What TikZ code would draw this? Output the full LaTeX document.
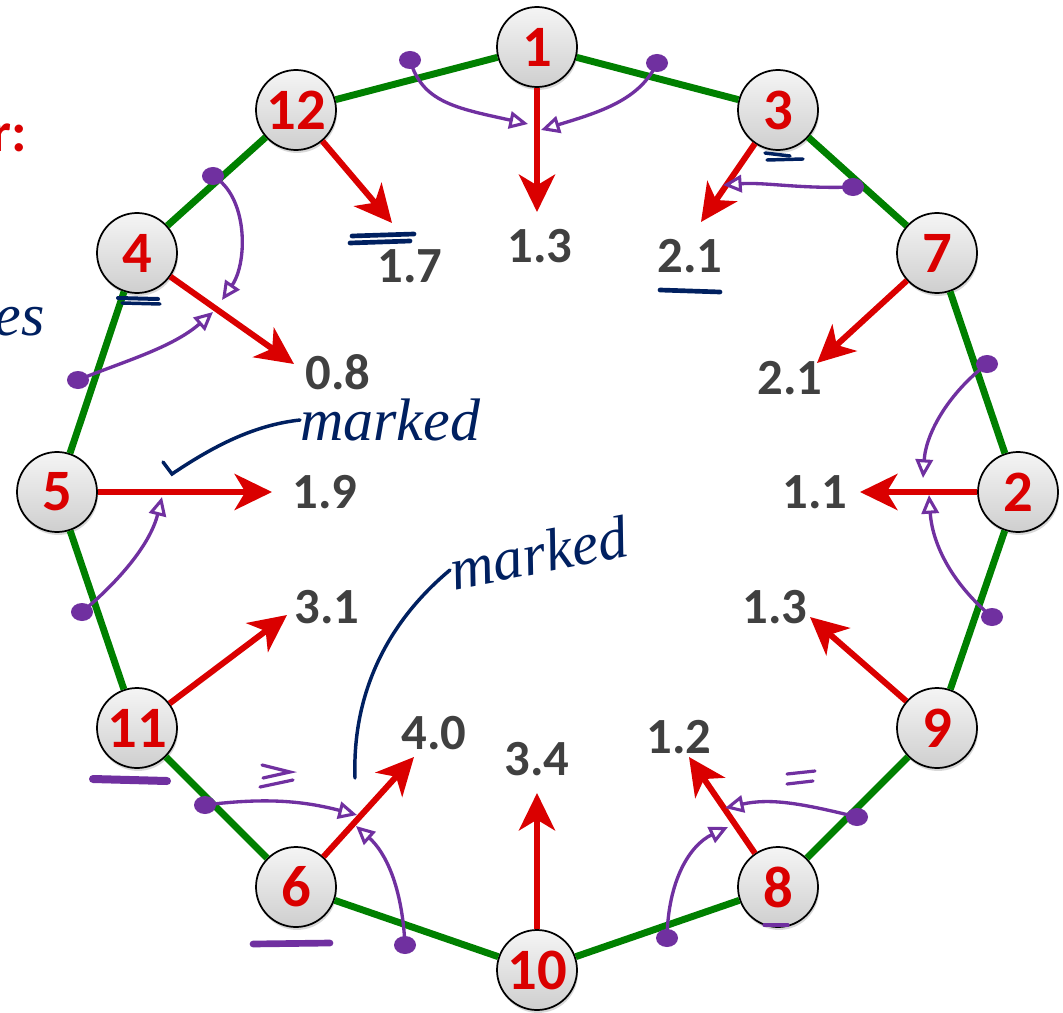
\documentclass[tikz,border=0pt]{standalone}
\usepackage{fontspec}
\setmainfont{Carlito}
\newfontfamily\handfont{Liberation Serif}
\usetikzlibrary{arrows.meta,shadows}
\definecolor{nred}{RGB}{218,0,0}
\definecolor{vgray}{RGB}{64,64,64}
\definecolor{egreen}{RGB}{0,128,0}
\definecolor{hpurple}{RGB}{112,48,160}
\definecolor{hnavy}{RGB}{0,32,96}
\begin{document}
\begin{tikzpicture}[x=0.75pt,y=-0.75pt,
  vtx/.style={circle, draw=black, line width=1.3pt, minimum size=60pt, inner sep=0pt,
    top color=gray!8, bottom color=gray!38,
    drop shadow={shadow xshift=0.8pt, shadow yshift=-2.2pt, opacity=0.3},
    text=nred, font=\fontsize{44}{44}\selectfont\bfseries},
  val/.style={text=vgray, font=\fontsize{38}{38}\selectfont\bfseries, inner sep=0pt},
  edge/.style={draw=egreen, line width=5.2pt},
  redarr/.style={draw=nred, line width=4.5pt, -{Stealth[length=28pt,width=27pt,inset=8pt]}},
  parr/.style={draw=hpurple, line width=2.5pt, line cap=round, -{Triangle[open,length=14pt,width=13pt,line width=2.3pt]}},
  pmark/.style={draw=hpurple, line width=2.4pt, line cap=round},
  nmark/.style={draw=hnavy, line width=2.6pt, line cap=round},
  hand/.style={text=hnavy, font=\handfont\itshape\fontsize{45}{45}\selectfont, inner sep=0pt}
]
\useasboundingbox (0,0) rectangle (1063,1013);
\clip (0,0) rectangle (1063,1013);
\fill[white] (0,0) rectangle (1063,1013);

% vertices
\node[vtx] (n1)  at (537,47)  {1};
\node[vtx] (n3)  at (778,110) {3};
\node[vtx] (n7)  at (937,253) {7};
\node[vtx] (n2)  at (1018,492) {2};
\node[vtx] (n9)  at (937,728) {9};
\node[vtx] (n8)  at (778,887) {8};
\node[vtx] (n10) at (537,970) {10};
\node[vtx] (n6)  at (296,887) {6};
\node[vtx] (n11) at (137,728) {11};
\node[vtx] (n5)  at (57,492)  {5};
\node[vtx] (n4)  at (137,253) {4};
\node[vtx] (n12) at (296,110) {12};

% polygon edges
\foreach \a/\b in {n1/n3,n3/n7,n7/n2,n2/n9,n9/n8,n8/n10,n10/n6,n6/n11,n11/n5,n5/n4,n4/n12,n12/n1}
  \draw[edge] (\a) -- (\b);

% values
\node[val] (v1)  at (540,246) {1.3};
\node[val] (v12) at (410,266) {1.7};
\node[val] (v3)  at (690,256) {2.1};
\node[val] (v4)  at (338,372) {0.8};
\node[val] (v7)  at (790,378) {2.1};
\node[val] (v5)  at (325,492) {1.9};
\node[val] (v2)  at (815,492) {1.1};
\node[val] (v11) at (327,607) {3.1};
\node[val] (v9)  at (775,607) {1.3};
\node[val] (v6)  at (434,733) {4.0};
\node[val] (v10) at (537,759) {3.4};
\node[val] (v8)  at (679,737) {1.2};

% arrow tips
\coordinate (t1)  at (537,212);
\coordinate (t12) at (392,223);
\coordinate (t3)  at (701,222);
\coordinate (t4)  at (294,364);
\coordinate (t7)  at (817,363);
\coordinate (t5)  at (272,492);
\coordinate (t2)  at (860,492);
\coordinate (t11) at (287,615);
\coordinate (t9)  at (810,617);
\coordinate (t6)  at (414,757);
\coordinate (t10) at (537,793);
\coordinate (t8)  at (689,757);
\foreach \n in {1,12,3,4,7,5,2,11,9,6,10,8}
  \draw[redarr] (n\n) -- (t\n);

% purple hand annotations: dots on edges
\foreach \p in {(410,60),(657,63),(853,187),(987,364),(992,617),(857,817),(667,938),(405,945),(205,805),(82,612),(78,380),(213,176)}
  \fill[hpurple] \p ellipse (11 and 9);

% purple curved arrows
\draw[parr] (410,60) .. controls (422,102) and (455,108) .. (528,124);
\draw[parr] (657,63) .. controls (640,100) and (600,112) .. (541,130);
\draw[parr] (853,187) .. controls (800,189) and (765,182) .. (723,185);
\draw[parr] (987,364) .. controls (950,392) and (926,432) .. (923,478);
\draw[parr] (992,617) .. controls (948,580) and (932,540) .. (929,495);
\draw[parr] (857,817) .. controls (800,803) and (770,798) .. (725,808);
\draw[parr] (667,938) .. controls (668,880) and (690,845) .. (728,827);
\draw[parr] (405,945) .. controls (402,885) and (385,852) .. (356,826);
\draw[parr] (205,805) .. controls (262,798) and (300,800) .. (357,815);
\draw[parr] (82,612) .. controls (118,582) and (150,545) .. (162,497);
\draw[parr] (78,380) .. controls (122,362) and (172,348) .. (213,312);
\draw[parr] (213,176) .. controls (248,196) and (248,262) .. (222,300);

% purple marks
\draw[pmark, line width=6pt] (93,779) -- (167,781);
\draw[pmark, line width=5pt] (253,944) -- (330,943);
\draw[pmark] (764,925) -- (788,925);
\draw[pmark] (262,765) -- (290,772) -- (263,778);
\draw[pmark] (260,787) -- (293,780);
\draw[pmark] (787,774) -- (815,771);
\draw[pmark] (787,784) -- (813,781);

% navy marks
\draw[nmark, line width=3.5pt] (352,236) -- (414,234);
\draw[nmark, line width=3.5pt] (350,243) -- (410,241);
\draw[nmark, line width=3.5pt] (660,290) -- (720,292);
\draw[nmark, line width=3pt] (118,298) -- (158,299);
\draw[nmark] (122,303) -- (160,304);
\draw[nmark] (765,153) -- (790,156);
\draw[nmark] (767,160) -- (803,159);

% handwritten texts
\node[hand, anchor=west] (mk1) at (300,420) {marked};
\node[hand, anchor=west, rotate=11] (mk2) at (450,570) {marked};
\node[hand, anchor=east] (es) at (45,322) {es};
\node[text=nred, font=\fontsize{42}{42}\selectfont\bfseries, anchor=east, inner sep=0pt] (rr) at (27,138) {r:};
\draw[nmark] (163,462) -- (172,474) .. controls (215,445) and (255,425) .. (mk1.west);
\draw[nmark] (355,778) .. controls (352,690) and (390,620) .. (mk2.west);
\end{tikzpicture}
\end{document}
